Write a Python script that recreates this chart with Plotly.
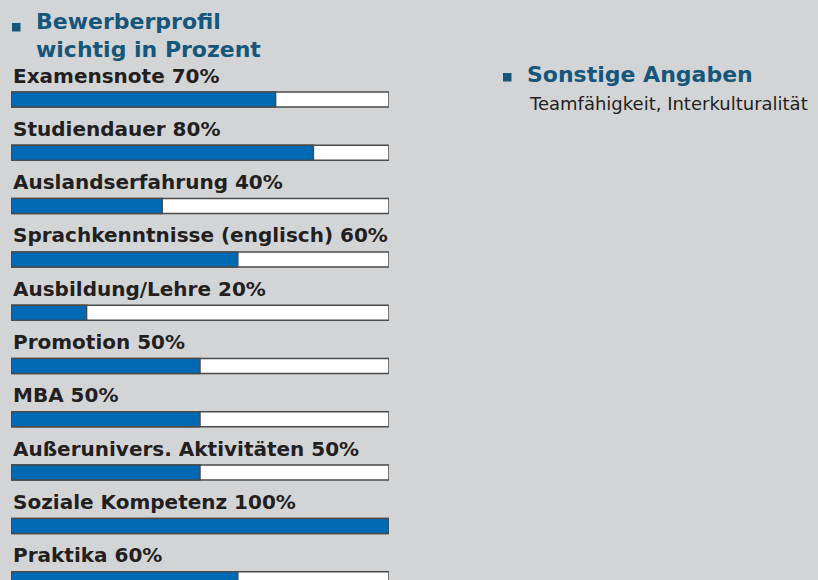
import plotly.graph_objects as go

# Anforderungen an Bewerber, Anteil "wichtig" in Prozent
categories = [
    "Examensnote",
    "Studiendauer",
    "Auslandserfahrung",
    "Sprachkenntnisse (englisch)",
    "Ausbildung/Lehre",
    "Promotion",
    "MBA",
    "Außeruniversitäre Aktivitäten",
    "Soziale Kompetenz",
    "Praktika",
]
display_names = [
    "Examensnote",
    "Studiendauer",
    "Auslandserfahrung",
    "Sprachkenntnisse (englisch)",
    "Ausbildung/Lehre",
    "Promotion",
    "MBA",
    "Außerunivers. Aktivitäten",
    "Soziale Kompetenz",
    "Praktika",
]
values = [70, 80, 40, 60, 20, 50, 50, 50, 100, 60]
full_scale = [100] * len(categories)

title_lines = ["Bewerberprofil", "wichtig in Prozent"]
side_title = "Sonstige Angaben"
side_text = "Teamfähigkeit, Interkulturalität"

W, H = 818, 580
ML, MR = 11, 429
BG = "#d3d4d6"
BLUE = "#0069b4"
HEAD = "#15567a"
INK = "#231f20"
EDGE = "#4a4a4a"
FONT = "DejaVu Sans, sans-serif"

ROW_PX = 53.3          # Abstand der Balken in Pixeln
FIRST_CENTER_PX = 99.5  # Mitte des ersten Balkens
y_top = -FIRST_CENTER_PX / ROW_PX
y_bottom = y_top + H / ROW_PX

plot_w = W - ML - MR


def px_x(p):
    return (p - ML) / plot_w


def px_y(p):
    return 1 - p / H


fig = go.Figure()
fig.add_trace(go.Bar(
    y=categories, x=full_scale, orientation="h", width=0.281,
    marker=dict(color="white", line=dict(color=EDGE, width=1.5)),
    hoverinfo="skip", showlegend=False,
))
fig.add_trace(go.Bar(
    y=categories, x=values, orientation="h", width=0.281,
    marker=dict(color=BLUE, line=dict(color=EDGE, width=1.5)),
    showlegend=False,
))

annotations = []
for cat, name, v in zip(categories, display_names, values):
    annotations.append(dict(
        x=0, y=cat, xref="x", yref="y", xanchor="left", yanchor="middle",
        xshift=0, yshift=24, showarrow=False, text=f"<b>{name} {v}%</b>",
        font=dict(family=FONT, size=20, color=INK),
    ))

# Überschrift links (zweizeilig)
for line, mid in zip(title_lines, [22, 49]):
    annotations.append(dict(
        x=px_x(34), y=px_y(mid), xref="paper", yref="paper",
        xanchor="left", yanchor="middle", showarrow=False, text=f"<b>{line}</b>",
        font=dict(family=FONT, size=22, color=HEAD),
    ))

# Sonstige Angaben rechts
annotations.append(dict(
    x=px_x(525), y=px_y(74), xref="paper", yref="paper",
    xanchor="left", yanchor="middle", showarrow=False, text=f"<b>{side_title}</b>",
    font=dict(family=FONT, size=22, color=HEAD),
))
annotations.append(dict(
    x=px_x(527), y=px_y(103.5), xref="paper", yref="paper",
    xanchor="left", yanchor="middle", showarrow=False, text=side_text,
    font=dict(family=FONT, size=18, color=INK),
))

# Quadratische Aufzählungszeichen vor den Überschriften
shapes = []
for x0, y0 in [(12, 23), (503, 73)]:
    shapes.append(dict(
        type="rect", xref="paper", yref="paper",
        x0=px_x(x0), x1=px_x(x0 + 8.5), y0=px_y(y0), y1=px_y(y0 + 8.5),
        fillcolor=HEAD, line=dict(width=0),
    ))

fig.update_layout(
    width=W, height=H,
    margin=dict(l=ML, r=MR, t=0, b=0, pad=0),
    paper_bgcolor=BG, plot_bgcolor=BG,
    barmode="overlay",
    xaxis=dict(range=[0, 100], visible=False, fixedrange=True),
    yaxis=dict(type="category", categoryorder="array", categoryarray=categories,
               range=[y_bottom, y_top], visible=False, fixedrange=True),
    annotations=annotations,
    shapes=shapes,
    showlegend=False,
)

fig.write_html("out.html", config={"displayModeBar": False})
